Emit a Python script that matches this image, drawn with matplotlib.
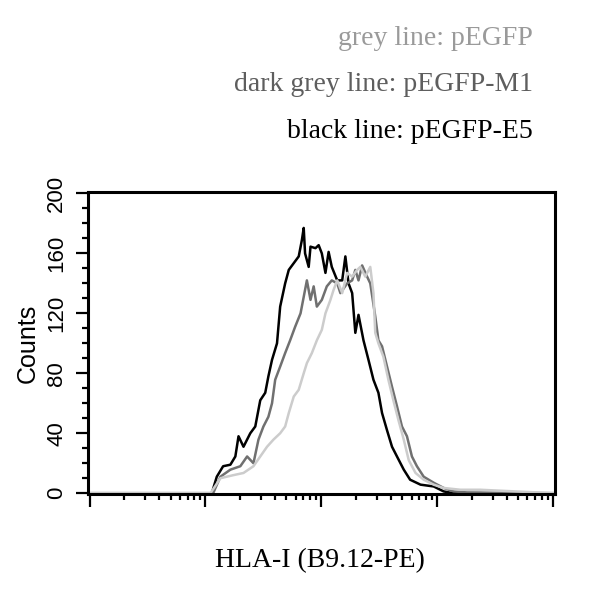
import matplotlib.pyplot as plt
import numpy as np

plt.rcParams['font.family'] = 'Liberation Sans'

# channel (0-1024 = 4 log decades) vs counts
e5_ch = [0, 270, 281, 295, 311, 322, 329, 340, 355, 366, 377, 388, 395, 403, 414,
         421, 432, 440, 451, 462, 469, 473, 476, 484, 488, 499, 506, 513, 521, 528,
         535, 547, 558, 565, 572, 580, 587, 594, 605, 616, 627, 638, 646, 657, 668,
         679, 694, 708, 731, 760, 782, 803, 1024]
e5_counts = [0, 0, 11, 18, 19, 24.5, 38, 31, 40, 44.5, 62, 67, 78, 89, 100,
             124.5, 140, 149, 153.5, 158, 169, 177, 160, 151, 164.5, 163.5, 165.5, 160, 147, 161,
             151, 142, 142, 158, 140, 133.5, 107, 119, 102, 89, 75.7, 67, 53.5, 42, 31,
             24.5, 15.7, 9, 5.7, 4.5, 1.2, 0, 0]

m1_ch = [0, 273, 289, 311, 333, 348, 362, 373, 384, 395, 403, 410, 421, 432, 443,
         454, 466, 473, 480, 488, 495, 502, 513, 524, 535, 547, 554, 569, 580, 587,
         594, 602, 613, 620, 631, 638, 646, 657, 668, 679, 690, 701, 712, 723, 738,
         760, 782, 804, 834, 1024]
m1_counts = [0, 0, 11, 15.7, 18, 24.5, 20, 35.7, 44.5, 51, 60, 75.7, 84.5, 93.5, 102,
             111, 120, 131, 142, 129, 138, 124.5, 129, 138, 142, 140, 133.5, 140, 142, 149,
             142, 152, 144.5, 140, 118, 102, 98, 84.5, 71, 58, 44.5, 38, 24.5, 18, 11,
             7, 3.5, 1.2, 0.5, 0]

gfp_ch = [0, 267, 289, 317, 340, 362, 377, 392, 406, 421, 432, 440, 451, 462, 473,
          480, 491, 502, 513, 521, 532, 539, 547, 558, 569, 580, 591, 598, 609, 620,
          627, 631, 638, 649, 660, 671, 682, 694, 705, 720, 738, 760, 782, 819, 863, 1024]
gfp_counts = [0, 0, 10, 12, 13.5, 18, 24.5, 31, 35.7, 40, 44.5, 53.5, 64.5, 69, 80,
              86.8, 93.5, 102, 109, 120, 129, 135.7, 142, 133.5, 147, 144.5, 149, 151, 144.5, 151,
              133.5, 107, 100, 91, 75.7, 62, 49, 35.7, 22, 13.5, 9, 5.7, 3.5, 2.3, 2.3, 0]

y_ticks = [0, 40, 80, 120, 160, 200]
legend_text = ['grey line: pEGFP', 'dark grey line: pEGFP-M1', 'black line: pEGFP-E5']
legend_colors = ['#9a9a9a', '#5e5e5e', 'black']

fig = plt.figure(figsize=(6, 5.98), dpi=100)
ax = fig.add_axes([0.147, 0.174, 0.778, 0.505])

ax.plot(e5_ch, e5_counts, color='black', lw=1.8)
ax.plot(m1_ch, m1_counts, color='#707070', lw=1.8)
ax.plot(gfp_ch, gfp_counts, color='#cccccc', lw=1.8)

ax.set_xlim(-3, 1028)
ax.set_ylim(-0.5, 201)

# log-decade ticks on the channel scale
major = [256 * d for d in range(5)]
minor = [256 * (d + np.log10(m)) for d in range(4) for m in range(2, 10)]
ax.set_xticks(major)
ax.set_xticks(minor, minor=True)
ax.set_yticks(y_ticks)
ax.set_yticks(range(0, 201, 10), minor=True)
ax.tick_params(axis='both', which='major', length=9, width=1.6, direction='out')
ax.tick_params(axis='both', which='minor', length=4.5, width=1.6, direction='out')
ax.tick_params(axis='y', which='major', pad=6, labelsize=16, labelrotation=90)
ax.tick_params(axis='x', labelbottom=False)
for t in ax.get_yticklabels():
    t.set_va('center')

for s in ax.spines.values():
    s.set_linewidth(2.2)

ax.set_ylabel('Counts', fontsize=18, labelpad=5)
fig.text(0.533, 0.063, 'HLA-I (B9.12-PE)', fontsize=20, family='Liberation Serif',
         ha='center', va='center')

for i, (txt, c) in enumerate(zip(legend_text, legend_colors)):
    fig.text(0.888, 0.936 - i * 0.078, txt, fontsize=20, family='Liberation Serif',
             color=c, ha='right', va='center')

fig.savefig('out.png', dpi=100)
